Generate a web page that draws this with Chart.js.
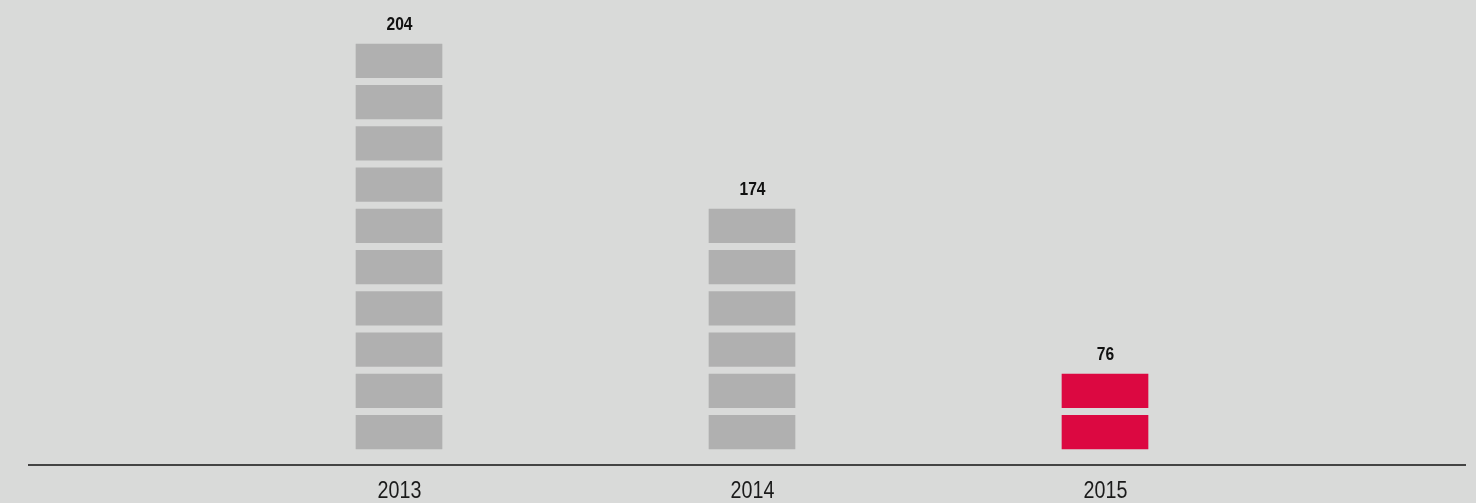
<!DOCTYPE html>
<html>
<head>
<meta charset="utf-8">
<script src="https://cdn.jsdelivr.net/npm/chart.js@4"></script>
<style>
  html, body { margin: 0; padding: 0; background: #d9dad9; }
  #wrap { width: 1476px; height: 503px; position: relative; }
</style>
</head>
<body>
<div id="wrap"><canvas id="chart"></canvas></div>
<script>
// data
const years = ['2013', '2014', '2015'];
const values = [204, 174, 76];
const blocks = [10, 6, 2];
const barColors = ['#b0b0b0', '#b0b0b0', '#dc0841'];

const FONT = '"Liberation Sans", Arial, sans-serif';
const NARROW = 0.82; // squeeze Liberation Sans to look like Arial Narrow
const blockFill = 33.75 / 41.25; // block height relative to its slot

// one dataset per block level, floating bars
const maxBlocks = Math.max(...blocks);
const datasets = [];
for (let i = 0; i < maxBlocks; i++) {
    datasets.push({
        data: blocks.map(n => n > i ? [i, i + blockFill] : null),
        backgroundColor: barColors,
        barThickness: 86,
        grouped: false
    });
}

function narrowText(ctx, text, x, y) {
    ctx.save();
    ctx.translate(x, y);
    ctx.scale(NARROW, 1);
    ctx.fillText(text, 0, 0);
    ctx.restore();
}

// value labels, year labels and the long baseline
const extras = {
    id: 'extras',
    afterDatasetsDraw(chart) {
        const ctx = chart.ctx;
        const x = chart.scales.x, y = chart.scales.y;
        const by = chart.chartArea.bottom;
        ctx.save();
        ctx.textAlign = 'center';
        ctx.textBaseline = 'middle';
        ctx.fillStyle = '#111';
        ctx.font = 'bold 19px ' + FONT;
        values.forEach((v, i) => {
            const top = y.getPixelForValue(blocks[i] - 1 + blockFill);
            narrowText(ctx, String(v), x.getPixelForValue(i) + 0.5, top - 19);
        });
        ctx.fillStyle = '#1a1a1a';
        ctx.font = '24px ' + FONT;
        years.forEach((yr, i) => {
            narrowText(ctx, yr, x.getPixelForValue(i) + 0.5, by + 26);
        });
        ctx.strokeStyle = '#444';
        ctx.lineWidth = 2;
        ctx.beginPath();
        ctx.moveTo(28, by);
        ctx.lineTo(1466, by);
        ctx.stroke();
        ctx.restore();
    }
};

new Chart(document.getElementById('chart'), {
    type: 'bar',
    data: { labels: years, datasets: datasets },
    options: {
        responsive: true,
        maintainAspectRatio: false,
        animation: false,
        layout: { padding: { left: 222.5, right: 194.5, top: 0, bottom: 38 } },
        plugins: { legend: { display: false }, tooltip: { enabled: false } },
        scales: {
            x: { display: false },
            y: {
                display: false,
                min: -16 / 41.25,
                max: 449 / 41.25
            }
        }
    },
    plugins: [extras]
});
</script>
</body>
</html>
